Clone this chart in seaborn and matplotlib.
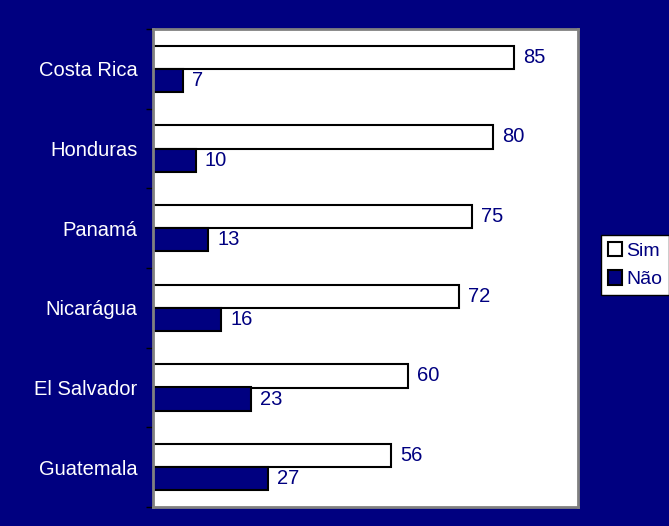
import matplotlib
matplotlib.use("Agg")
import matplotlib.pyplot as plt
import seaborn as sns
import pandas as pd
from matplotlib.patches import Patch

countries = ["Costa Rica", "Honduras", "Panamá", "Nicarágua", "El Salvador", "Guatemala"]
sim = [85, 80, 75, 72, 60, 56]
nao = [7, 10, 13, 16, 23, 27]
series = ["Sim", "Não"]

NAVY = "#000080"

df = pd.DataFrame({
    "country": countries * 2,
    "value": sim + nao,
    "series": [series[0]] * len(countries) + [series[1]] * len(countries),
})

sns.set_style("white")
plt.rcParams["font.family"] = ["Liberation Sans", "DejaVu Sans"]

fig = plt.figure(figsize=(6.69, 5.26), dpi=100)
fig.patch.set_facecolor(NAVY)
ax = fig.add_axes([153 / 669, 1 - 507 / 526, (578 - 153) / 669, (507 - 29) / 526])

sns.barplot(data=df, y="country", x="value", hue="series", order=countries,
            hue_order=series, palette=["white", NAVY], orient="h", saturation=1,
            width=0.58, edgecolor="black", linewidth=1.5, ax=ax, legend=False)

ax.set_xlim(0, 100)
ax.set_ylim(5.5, -0.5)
ax.set_xlabel("")
ax.set_ylabel("")
ax.set_facecolor("white")
ax.set_xticks([])

for sp in ax.spines.values():
    sp.set_visible(True)
    sp.set_color("#808080")
    sp.set_linewidth(2)

ax.set_yticks(range(len(countries)))
ax.set_yticklabels(countries, fontsize=14.5, color="white")
ax.tick_params(axis="y", which="major", length=0, pad=11)
ax.set_yticks([i - 0.5 for i in range(len(countries) + 1)], minor=True)
ax.tick_params(axis="y", which="minor", length=5, width=1, color="black", left=True)

for cont in ax.containers:
    ax.bar_label(cont, padding=6.5, fontsize=14.5, color=NAVY)

handles = [Patch(facecolor="white", edgecolor="black", linewidth=1.5),
           Patch(facecolor=NAVY, edgecolor="black", linewidth=1.5)]
leg = fig.legend(handles, series, loc="upper left",
                 bbox_to_anchor=(601 / 669, 1 - 235 / 526),
                 fontsize=14, frameon=True, fancybox=False, shadow=False,
                 framealpha=1, handlelength=0.75, handleheight=0.75,
                 handletextpad=0.2, borderpad=0.35, labelspacing=0.55,
                 borderaxespad=0)
leg.get_frame().set_edgecolor("black")
leg.get_frame().set_facecolor("white")
leg.get_frame().set_linewidth(1)
for t in leg.get_texts():
    t.set_color(NAVY)

fig.savefig("out.png", dpi=100, facecolor=NAVY)
